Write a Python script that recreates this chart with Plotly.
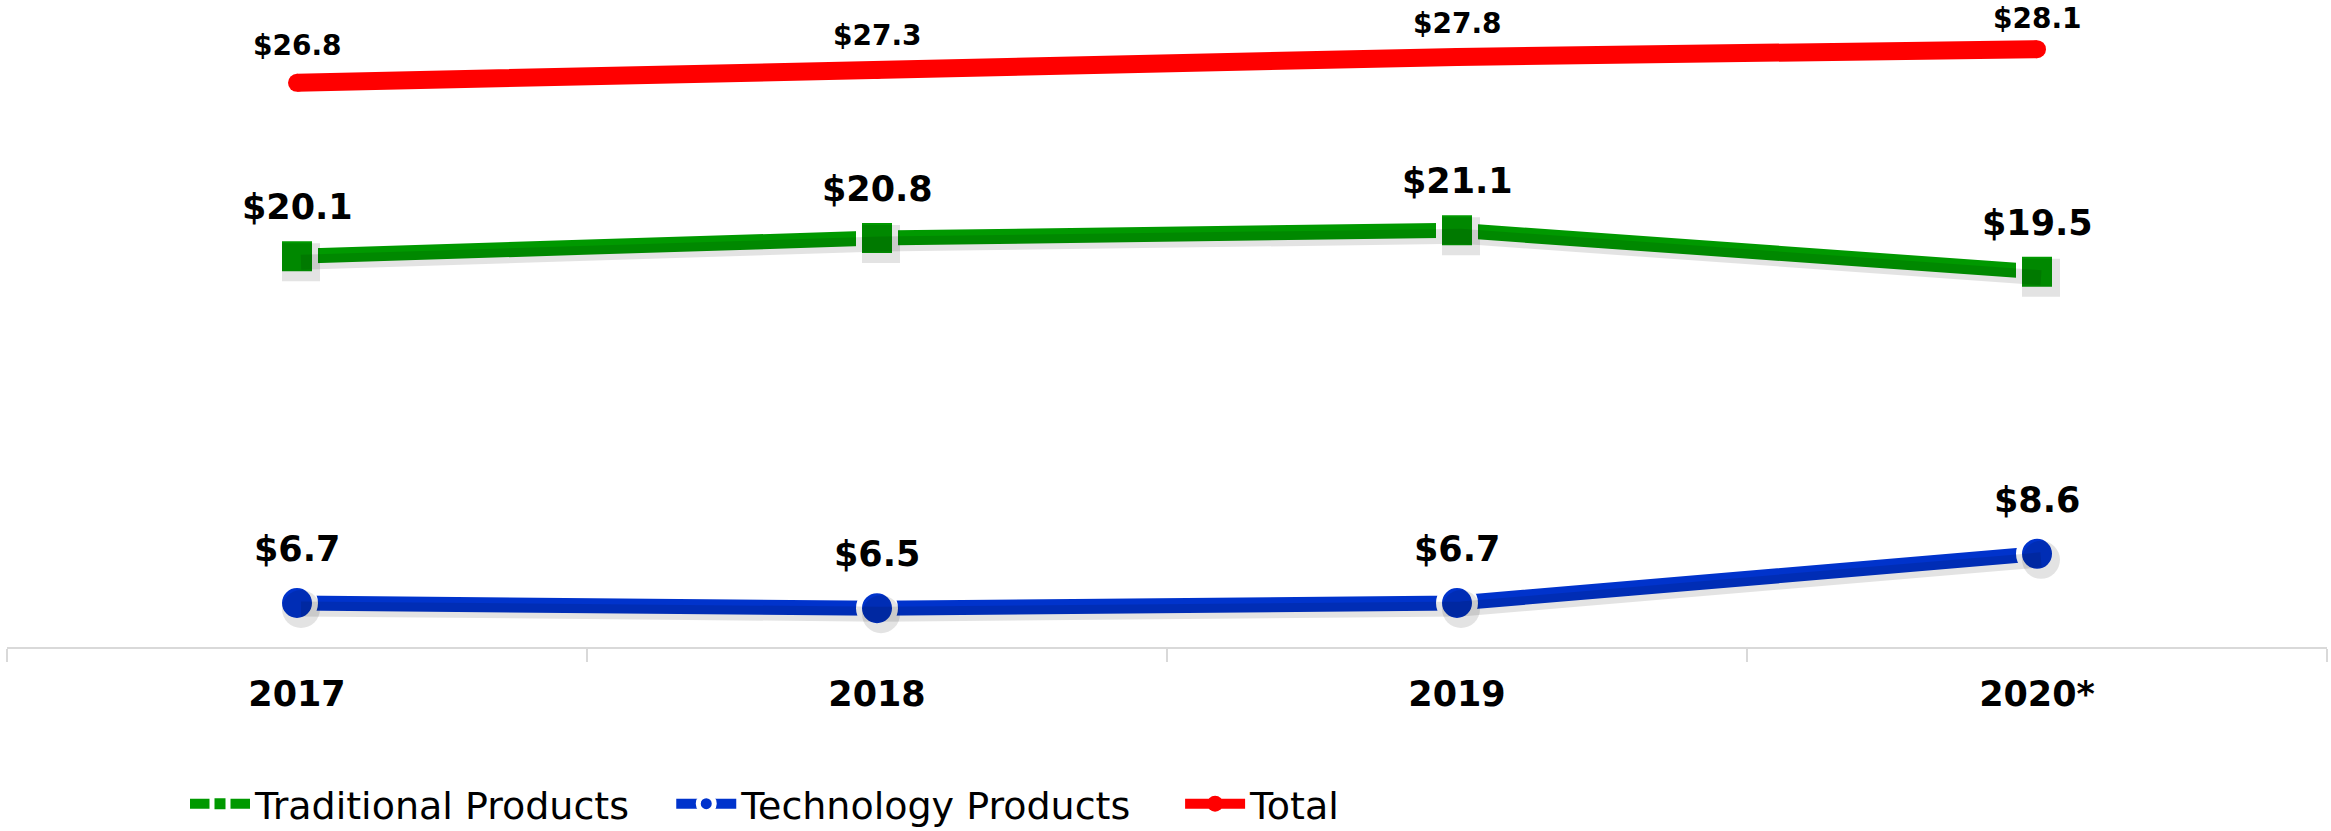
import plotly.graph_objects as go

years = ["2017", "2018", "2019", "2020*"]
traditional = [20.1, 20.8, 21.1, 19.5]
technology = [6.7, 6.5, 6.7, 8.6]
total = [26.8, 27.3, 27.8, 28.1]

GREEN = "#009900"
BLUE = "#0033CC"
RED = "#FF0000"
FONT = "DejaVu Sans"

W, H = 2331, 831
ML, MR, MT, MB = 7, 4, 0, 184
YR = [5, 30]
XR = [-0.5, 3.5]
plot_w = W - ML - MR
plot_h = H - MT - MB
px_per_cat = plot_w / (XR[1] - XR[0])
px_per_unit = plot_h / (YR[1] - YR[0])
sdx, sdy = 4, 6  # shadow offset in pixels

fig = go.Figure()

# soft shadows (drawn on an overlaid, pixel-shifted axis pair)
for vals, sym in [(traditional, "square"), (technology, "circle")]:
    fig.add_trace(go.Scatter(
        x=list(range(len(years))), y=vals, mode="lines+markers", xaxis="x2", yaxis="y2",
        line=dict(color="rgba(0,0,0,0.11)", width=15),
        marker=dict(symbol=sym, size=38, color="rgba(0,0,0,0.11)"),
        showlegend=False, hoverinfo="skip"))

NB = "\u00a0" * 3
fig.add_trace(go.Scatter(
    x=years, y=traditional, name="Traditional Products" + NB, mode="lines+markers",
    line=dict(color=GREEN, width=15),
    marker=dict(symbol="square", size=36, color=GREEN, line=dict(color="white", width=6))))
fig.add_trace(go.Scatter(
    x=years, y=technology, name="Technology Products" + NB + "\u2009", mode="lines+markers",
    line=dict(color=BLUE, width=15),
    marker=dict(symbol="circle", size=36, color=BLUE, line=dict(color="white", width=6))))
fig.add_trace(go.Scatter(
    x=years, y=total, name="Total", mode="lines+markers",
    line=dict(color=RED, width=18),
    marker=dict(symbol="circle", size=18, color=RED)))

# label offsets above each point (pixels)
green_shift = [49, 49, 49, 49]
blue_shift = [54, 54, 54, 54]
red_shift = [37, 34, 33, 31]

annotations = []
for series, shifts, size in [(traditional, green_shift, 35), (technology, blue_shift, 35),
                             (total, red_shift, 28)]:
    for i, v in enumerate(series):
        annotations.append(dict(
            x=i, y=v, xref="x", yref="y", text=f"<b>${v:.1f}</b>", showarrow=False,
            yshift=shifts[i], xanchor="center", yanchor="middle",
            font=dict(family=FONT, size=size, color="black")))

fig.update_layout(
    width=W, height=H,
    margin=dict(l=ML, r=MR, t=MT, b=MB, autoexpand=False),
    paper_bgcolor="white", plot_bgcolor="white",
    showlegend=True,
    hovermode=False,
    annotations=annotations,
    xaxis=dict(type="category", categoryorder="array", categoryarray=years,
               range=XR, showgrid=False, zeroline=False,
               showline=True, linecolor="#D9D9D9", linewidth=2,
               ticks="outside", tickson="boundaries", ticklen=13, tickwidth=1.5,
               tickcolor="#D9D9D9",
               tickfont=dict(family=FONT, size=35, color="black"),
               ticklabelstandoff=15,
               tickvals=years, ticktext=[f"<b>{y}</b>" for y in years]),
    yaxis=dict(range=YR, visible=False, showgrid=False, zeroline=False),
    xaxis2=dict(overlaying="x", visible=False,
                range=[XR[0] - sdx / px_per_cat, XR[1] - sdx / px_per_cat]),
    yaxis2=dict(overlaying="y", visible=False,
                range=[YR[0] + sdy / px_per_unit, YR[1] + sdy / px_per_unit]),
    legend=dict(orientation="h", x=(185 - ML) / plot_w, xanchor="left",
                y=-(804 - (H - MB)) / plot_h, yanchor="middle",
                font=dict(family=FONT, size=38, color="black"),
                itemwidth=60, bgcolor="rgba(0,0,0,0)"),
)

fig.write_html("out.html", config={"displayModeBar": False},
               post_script="document.body.style.margin='0';document.body.style.overflow='hidden';")
